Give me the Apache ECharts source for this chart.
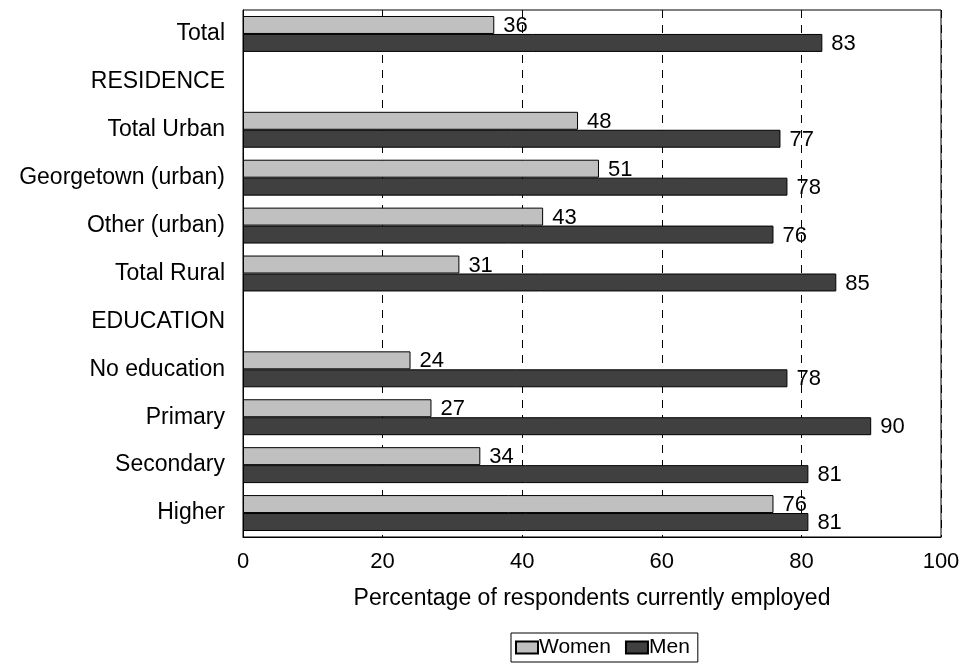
<!DOCTYPE html>
<html>
<head>
<meta charset="utf-8">
<script src="https://cdn.jsdelivr.net/npm/echarts@6/dist/echarts.min.js"></script>
<style>html,body{margin:0;padding:0;background:#fff}#c{width:966px;height:664px}</style>
</head>
<body>
<div id="c"></div>
<script>
const categories = ["Total","RESIDENCE","Total Urban","Georgetown (urban)","Other (urban)","Total Rural","EDUCATION","No education","Primary","Secondary","Higher"];
const women = [36, null, 48, 51, 43, 31, null, 24, 27, 34, 76];
const men = [83, null, 77, 78, 76, 85, null, 78, 90, 81, 81];
const xTicks = [0, 20, 40, 60, 80, 100];

const FONT = '"Liberation Sans", Arial, sans-serif';
const chart = echarts.init(document.getElementById('c'), null, {renderer: 'canvas'});
const lbl = {show: true, position: 'right', distance: 9, color: '#000', fontSize: 22, fontFamily: FONT, offset: [0, 1]};
chart.setOption({
  animation: false,
  textStyle: {fontFamily: FONT},
  grid: {left: 243, right: 25, top: 10, bottom: 127, show: true, borderColor: '#000', borderWidth: 1, containLabel: false},
  legend: {
    bottom: 2, left: 511,
    data: ['Women', 'Men'],
    itemWidth: 22, itemHeight: 12, itemGap: 14,
    borderColor: '#000', borderWidth: 1, padding: [4, 8, 4, 4],
    textStyle: {fontSize: 21, color: '#000', fontFamily: FONT, padding: [0, 0, 0, -4]},
    icon: 'rect'
  },
  xAxis: {
    type: 'value', min: 0, max: 100, interval: 20,
    name: 'Percentage of respondents currently employed',
    nameLocation: 'middle', nameGap: 50,
    nameTextStyle: {fontSize: 23, color: '#000', fontFamily: FONT},
    axisLine: {show: true, lineStyle: {color: '#000', width: 1}},
    axisTick: {show: false},
    axisLabel: {fontSize: 22, color: '#000', margin: 14, fontFamily: FONT,
      formatter: v => xTicks.includes(v) ? String(v) : ''},
    splitLine: {show: true, lineStyle: {color: '#000', type: [8, 7], width: 1}}
  },
  yAxis: {
    type: 'category', data: categories, inverse: true,
    axisLine: {show: true, lineStyle: {color: '#000', width: 1}},
    axisTick: {show: false},
    axisLabel: {fontSize: 23, color: '#000', margin: 18, fontFamily: FONT}
  },
  series: [
    {name: 'Women', type: 'bar', data: women, barCategoryGap: '25%', barGap: '0%',
     itemStyle: {color: '#c0c0c0', borderColor: '#000', borderWidth: 1}, label: lbl},
    {name: 'Men', type: 'bar', data: men, barCategoryGap: '25%', barGap: '0%',
     itemStyle: {color: '#404040', borderColor: '#000', borderWidth: 1}, label: lbl}
  ]
});
</script>
</body>
</html>
